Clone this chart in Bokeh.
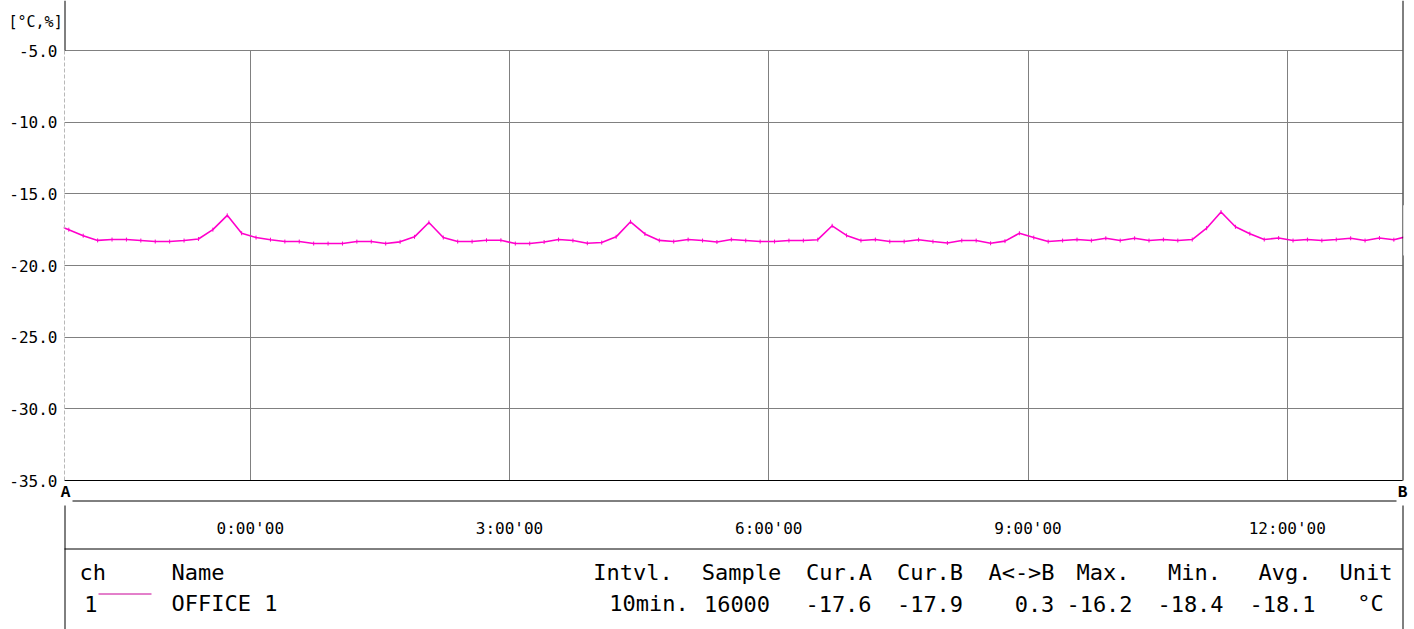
import math
from bokeh.plotting import figure
from bokeh.models import (Range1d, FixedTicker, NumeralTickFormatter, BoxAnnotation)
from bokeh.core.properties import value
from bokeh.embed import file_html
from bokeh.resources import INLINE

# ---------------- data ----------------
Y_TICKS = [-35, -30, -25, -20, -15, -10, -5]
TIME_TICKS_MIN = [0, 180, 360, 540, 720]
TIME_TICK_LABELS = ["0:00'00", "3:00'00", "6:00'00", "9:00'00", "12:00'00"]
CURSOR_A_MIN = -129          # cursor A (left edge of the trace window)
CURSOR_B_MIN = 800           # cursor B (right edge of the trace window)
SERIES_START_MIN = -136      # time of first logged sample
INTERVAL_MIN = 10            # logging interval
TEMPS = [
    -17.1, -17.5, -17.92, -18.25, -18.19, -18.19, -18.26, -18.33, -18.33, -18.26,
    -18.15, -17.5, -16.5, -17.75, -18.05, -18.2, -18.33, -18.33, -18.47, -18.47,
    -18.47, -18.33, -18.33, -18.47, -18.35, -18.0, -17.0, -18.05, -18.33, -18.33,
    -18.24, -18.24, -18.47, -18.47, -18.36, -18.19, -18.26, -18.45, -18.4, -18.0,
    -16.95, -17.8, -18.25, -18.33, -18.19, -18.26, -18.36, -18.19, -18.26, -18.33,
    -18.33, -18.26, -18.26, -18.2, -17.23, -17.9, -18.26, -18.19, -18.33, -18.33,
    -18.2, -18.33, -18.43, -18.26, -18.26, -18.45, -18.3, -17.75, -18.05, -18.33,
    -18.26, -18.19, -18.26, -18.1, -18.26, -18.1, -18.26, -18.19, -18.26, -18.19,
    -17.4, -16.27, -17.3, -17.78, -18.19, -18.08, -18.26, -18.19, -18.26, -18.19,
    -18.1, -18.26, -18.08, -18.2, -17.95,
]
UNIT_LABEL = "[°C,%]"
CH_HEADER = "ch"
NAME_HEADER = "Name"
CHANNEL = "1"
CHANNEL_NAME = "OFFICE 1"
STAT_HEADERS = ["Intvl.", "Sample", "Cur.A", "Cur.B", "A<->B", "Max.", "Min.", "Avg.", "Unit"]
STAT_VALUES = ["10min.", "16000", "-17.6", "-17.9", "0.3", "-16.2", "-18.4", "-18.1", "°C"]
CURSOR_NAMES = ["A", "B"]

# ---------------- layout / style (page pixels) ----------------
W, H = 1414, 629
PL, PR, PT, PB = 64, 1402, 50, 480          # plot area
Y_MIN, Y_MAX = -35, -5
MAGENTA = "#ff00cc"
SWATCH = "#c80096"
GRID = "#808080"
AX_FONT = "DejaVu Sans Mono"
TBL_FONT = "DejaVu Sans Mono"
MARK_FONT = "Liberation Mono"
TBL_SIZE = "22px"

HDR_BASE, ROW_BASE = 572, 603
HDR_CENTERS = [632.5, 741, 838.5, 929.5, 1021, 1102.5, 1194, 1284.5, 1365.5]
VAL_CENTERS = [648.5, 736.5, 838, 929.5, 1034, 1099, 1190, 1282, 1370]

PPM = (PR - PL) / (CURSOR_B_MIN - CURSOR_A_MIN)     # px per minute
PPU = (PB - PT) / (Y_MAX - Y_MIN)                   # px per degree

times = [SERIES_START_MIN + INTERVAL_MIN * i for i in range(len(TEMPS))]

p = figure(width=W, height=H,
           x_range=Range1d(CURSOR_A_MIN - PL / PPM, CURSOR_B_MIN + (W - PR) / PPM),
           y_range=Range1d(Y_MIN - (H - PB) / PPU, Y_MAX + PT / PPU),
           output_backend="svg", toolbar_location=None, min_border=0)
p.outline_line_color = None
p.background_fill_color = "white"
p.border_fill_color = "white"

# pixel coordinate ranges (page pixels, y downwards) for the frame decorations
p.extra_x_ranges = {"px": Range1d(0, W)}
p.extra_y_ranges = {"px": Range1d(H, 0)}

# x axis (time) sits on the bottom of the plot area
xa = p.xaxis[0]
xa.fixed_location = Y_MIN
xa.bounds = (CURSOR_A_MIN, CURSOR_B_MIN)
xa.ticker = FixedTicker(ticks=TIME_TICKS_MIN)
xa.major_label_overrides = {t: s for t, s in zip(TIME_TICKS_MIN, TIME_TICK_LABELS)}
xa.major_tick_in = 0
xa.major_tick_out = 0
xa.minor_tick_in = 0
xa.minor_tick_out = 0
xa.axis_line_color = "black"
xa.axis_line_width = 1
xa.major_label_standoff = 38
xa.major_label_text_font = AX_FONT
xa.major_label_text_font_size = "16px"
xa.major_label_text_color = "black"

# y axis (temperature) on the left edge of the plot area
ya = p.yaxis[0]
ya.fixed_location = CURSOR_A_MIN
ya.bounds = (Y_MIN, Y_MAX)
ya.ticker = FixedTicker(ticks=Y_TICKS)
ya.formatter = NumeralTickFormatter(format="0.0")
ya.major_tick_in = 0
ya.major_tick_out = 0
ya.minor_tick_in = 0
ya.minor_tick_out = 0
ya.axis_line_color = "#b8b8b8"
ya.axis_line_dash = "4 2"
ya.major_label_standoff = 7
ya.major_label_text_font = AX_FONT
ya.major_label_text_font_size = "16px"
ya.major_label_text_color = "black"

xg, yg = p.xgrid[0], p.ygrid[0]
for g in (xg, yg):
    g.grid_line_color = GRID
    g.grid_line_width = 1
if "cross_bounds" in xg.properties():
    xg.cross_bounds = (Y_MIN, Y_MAX)
    yg.cross_bounds = (CURSOR_A_MIN, CURSOR_B_MIN)
else:
    xg.visible = False
    yg.visible = False
    p.segment(x0=TIME_TICKS_MIN, x1=TIME_TICKS_MIN, y0=[Y_MIN] * len(TIME_TICKS_MIN),
              y1=[Y_MAX] * len(TIME_TICKS_MIN), line_color=GRID, line_width=1, level="underlay")
    p.segment(x0=[CURSOR_A_MIN] * len(Y_TICKS), x1=[CURSOR_B_MIN] * len(Y_TICKS),
              y0=Y_TICKS, y1=Y_TICKS, line_color=GRID, line_width=1, level="underlay")

# series
p.line(times, TEMPS, line_color=MAGENTA, line_width=1.6)
p.scatter(times, TEMPS, marker="dash", angle=math.pi / 2, size=4,
          line_color=MAGENTA, line_width=1)

# mask the trace outside the A..B window
band_lo, band_hi = -19.3, -15.8
p.add_layout(BoxAnnotation(right=CURSOR_A_MIN - 0.8 / PPM, bottom=band_lo, top=band_hi,
                           fill_color="white", fill_alpha=1, line_alpha=0, level="annotation"))
p.add_layout(BoxAnnotation(left=CURSOR_B_MIN + 0.8 / PPM, bottom=band_lo, top=band_hi,
                           fill_color="white", fill_alpha=1, line_alpha=0, level="annotation"))

# frame decoration lines (page pixel coordinates)
h = 0.5
seg_x0 = [PL + h, PR + h, 72, PL + h, PR + h, PL]
seg_x1 = [PL + h, PR + h, 1396, PL + h, PR + h, PR]
seg_y0 = [0, 0, 500 + h, 505, 505, 548 + h]
seg_y1 = [PT, PB, 500 + h, H, H, 548 + h]
p.segment(x0=seg_x0, x1=seg_x1, y0=seg_y0, y1=seg_y1, line_color="black", line_width=1,
          x_range_name="px", y_range_name="px")
# legend swatch
p.segment(x0=[98], x1=[151], y0=[593 + h], y1=[593 + h], line_color=SWATCH, line_width=1,
          x_range_name="px", y_range_name="px")


def labels(xs, ys, texts, font, size, align, baseline, bold=False):
    p.text(x=xs, y=ys, text=texts, x_range_name="px", y_range_name="px",
           text_font=value(font), text_font_size=value(size),
           text_align=align, text_baseline=baseline,
           text_font_style="bold" if bold else "normal", text_color="black")


labels([8], [21], [UNIT_LABEL], AX_FONT, "15px", "left", "middle")
labels([65, 1402], [492, 492], CURSOR_NAMES, MARK_FONT, "16px", "center", "middle", bold=True)
labels([79, 171], [HDR_BASE, HDR_BASE], [CH_HEADER, NAME_HEADER], TBL_FONT, TBL_SIZE, "left", "alphabetic")
labels([171], [ROW_BASE], [CHANNEL_NAME], TBL_FONT, TBL_SIZE, "left", "alphabetic")
labels([97], [ROW_BASE], [CHANNEL], TBL_FONT, TBL_SIZE, "right", "alphabetic")
labels(HDR_CENTERS, [HDR_BASE] * len(STAT_HEADERS), STAT_HEADERS, TBL_FONT, TBL_SIZE, "center", "alphabetic")
labels(VAL_CENTERS, [ROW_BASE] * len(STAT_VALUES), STAT_VALUES, TBL_FONT, TBL_SIZE, "center", "alphabetic")

open("out.html", "w").write(file_html(p, INLINE))
